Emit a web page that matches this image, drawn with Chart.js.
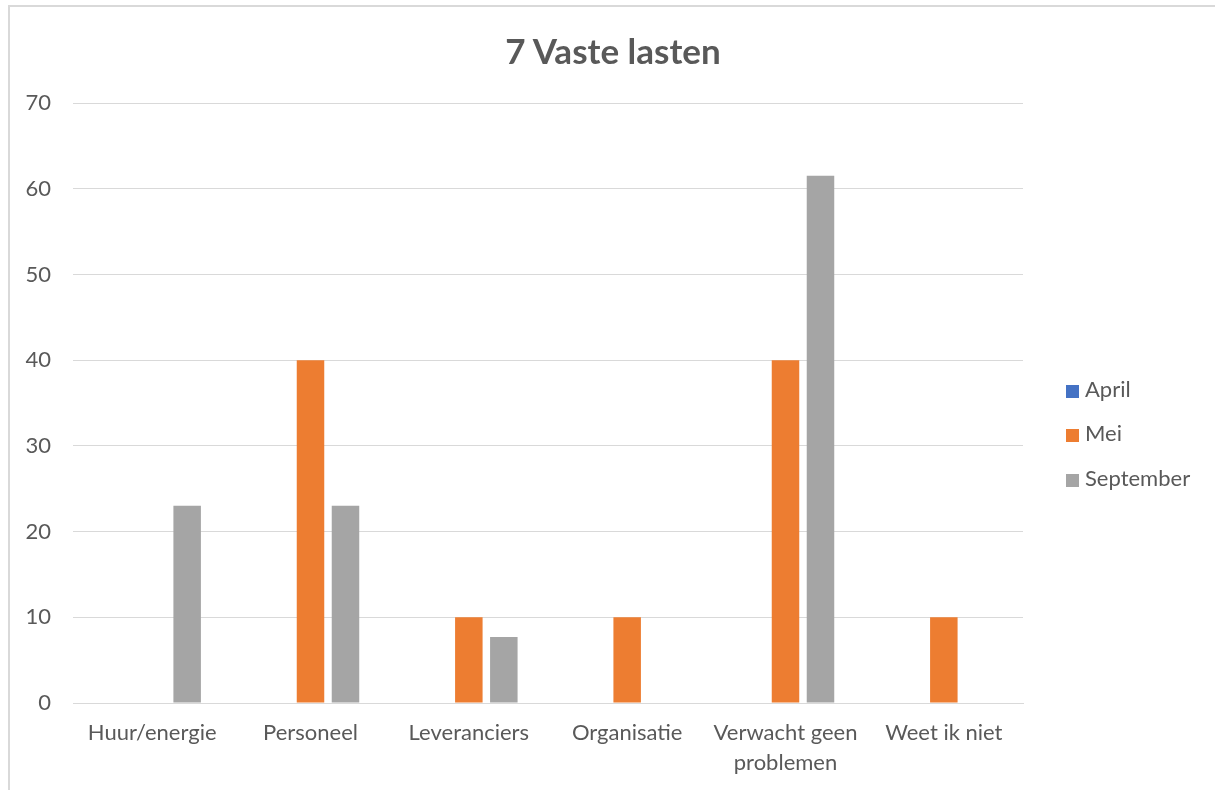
<!DOCTYPE html>
<html>
<head>
<meta charset="utf-8">
<script src="https://cdn.jsdelivr.net/npm/chart.js@4"></script>
<style>
    html, body { margin: 0; padding: 0; background: #fff; overflow: hidden; }
    #wrap { position: relative; width: 1215px; height: 790px; overflow: hidden; }
    .edge { position: absolute; background: #d9d9d9; }
    #edgeTop { left: 8px; top: 5px; width: 1207px; height: 2px; }
    #edgeLeft { left: 8px; top: 5px; width: 2px; height: 785px; }
    #chart { position: absolute; left: 0; top: 0; }
    #title { position: absolute; left: 0; width: 1226px; top: 29px; text-align: center; font-family: Lato, sans-serif; font-weight: bold; font-size: 35px; line-height: 42px; color: #595959; }
    .legend { position: absolute; left: 1066px; font-family: Lato, sans-serif; font-size: 22px; color: #595959; }
    .legend div { position: absolute; white-space: nowrap; height: 24px; line-height: 24px; }
    .legend span { display: inline-block; width: 13px; height: 13px; margin-right: 6px; vertical-align: -1px; }
</style>
</head>
<body>
<div id="wrap">
    <div class="edge" id="edgeTop"></div>
    <div class="edge" id="edgeLeft"></div>
    <canvas id="chart" width="1215" height="790"></canvas>
    <div id="title">7 Vaste lasten</div>
    <div class="legend" id="legend"></div>
</div>
<script>
const categories = ["Huur/energie", "Personeel", "Leveranciers", "Organisatie", ["Verwacht geen", "problemen"], "Weet ik niet"];
const april = [0, 0, 0, 0, 0, 0];
const mei = [0, 40, 10, 10, 40, 10];
const september = [23, 23, 7.7, 0, 61.5, 0];
const seriesNames = ["April", "Mei", "September"];
const seriesColors = ["#4472C4", "#ED7D31", "#A5A5A5"];

const font = "Lato, sans-serif";
const grey = "#595959";

function ds(i, data) {
    return {
        label: seriesNames[i],
        data,
        backgroundColor: seriesColors[i],
        categoryPercentage: 0.663,
        barPercentage: 0.786
    };
}

const chart = new Chart(document.getElementById("chart"), {
    type: "bar",
    data: {
        labels: categories,
        datasets: [ds(0, april), ds(1, mei), ds(2, september)]
    },
    options: {
        responsive: false,
        animation: false,
        layout: { padding: { left: 0, right: 192, top: 103, bottom: 0 } },
        plugins: {
            legend: { display: false },
            tooltip: { enabled: false }
        },
        scales: {
            x: {
                grid: { display: false, drawTicks: false },
                border: { color: "#d9d9d9", width: 1 },
                ticks: {
                    color: grey,
                    font: { family: font, size: 22, lineHeight: 1.364 },
                    padding: 15,
                    maxRotation: 0,
                    autoSkip: false
                },
                afterFit: s => { s.height = 87; }
            },
            y: {
                min: 0,
                max: 70,
                grid: { color: "#d9d9d9", lineWidth: 1, drawTicks: false },
                border: { display: false },
                ticks: {
                    stepSize: 10,
                    color: grey,
                    font: { family: font, size: 22 },
                    padding: 22
                },
                afterFit: s => { s.width = 73; }
            }
        }
    }
});

// legend
const legend = document.getElementById("legend");
const legendY = [389, 433, 478];
seriesNames.forEach((name, i) => {
    const item = document.createElement("div");
    item.style.top = (legendY[i] - 12) + "px";
    item.innerHTML = '<span style="background:' + seriesColors[i] + '"></span>' + name;
    legend.appendChild(item);
});
</script>
</body>
</html>
